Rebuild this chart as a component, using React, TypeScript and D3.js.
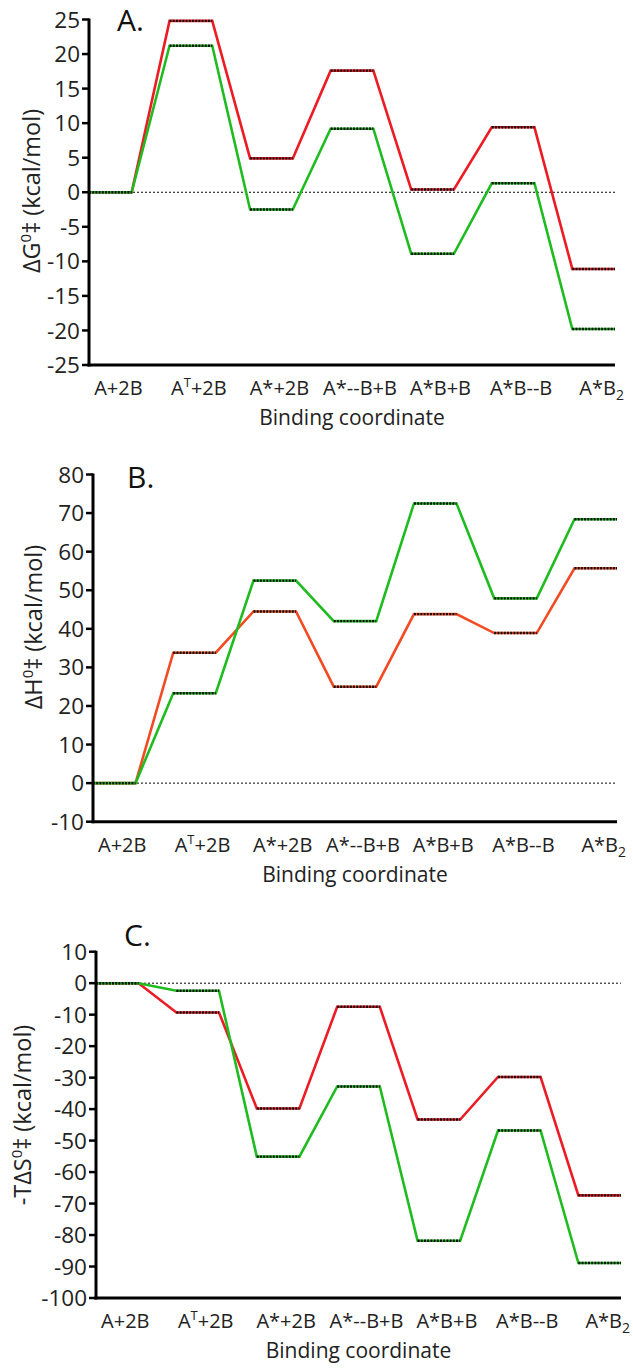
import React from 'react';
import * as d3 from 'd3';

// ---------- data ----------
const categories = ["A+2B", "A^T+2B", "A*+2B", "A*--B+B", "A*B+B", "A*B--B", "A*B_2"];

const dG_red = [0, 24.8, 4.9, 17.6, 0.4, 9.4, -11.1];
const dG_green = [0, 21.2, -2.5, 9.2, -8.9, 1.3, -19.8];

const dH_red = [0, 33.8, 44.5, 25.0, 43.8, 38.9, 55.7];
const dH_green = [0, 23.3, 52.5, 42.0, 72.5, 47.9, 68.4];

const TdS_red = [0, -9.3, -39.8, -7.5, -43.3, -29.8, -67.4];
const TdS_green = [0, -2.4, -55.1, -32.8, -81.8, -46.8, -88.9];

const ticksA = [-25, -20, -15, -10, -5, 0, 5, 10, 15, 20, 25];
const ticksB = [-10, 0, 10, 20, 30, 40, 50, 60, 70, 80];
const ticksC = [-100, -90, -80, -70, -60, -50, -40, -30, -20, -10, 0, 10];

const FONT = "'Open Sans', 'Noto Sans', sans-serif";
const GREEN = '#20bb20';

type Cfg = {
  label: string;
  labelX: number;
  labelY: number;
  titlePre: string;
  domain: [number, number];
  ticks: number[];
  x0: number;
  x1: number;
  yTop: number;
  yBottom: number;
  red: number[];
  green: number[];
  redColor: string;
  titleX: number;
  titleY: number;
};

function CatLabel({ text, x, y }: { text: string; x: number; y: number }) {
  if (text.includes('^')) {
    const [a, rest] = text.split('^');
    const sup = rest[0];
    const tail = rest.slice(1);
    return (
      <text x={x} y={y} textAnchor="middle" fontSize={20} fontFamily={FONT} fill="#222">
        <tspan>{a}</tspan>
        <tspan dy={-8} fontSize={13}>{sup}</tspan>
        <tspan dy={8}>{tail}</tspan>
      </text>
    );
  }
  if (text.includes('_')) {
    const [a, sub] = text.split('_');
    return (
      <text x={x} y={y} textAnchor="middle" fontSize={20} fontFamily={FONT} fill="#222">
        <tspan>{a}</tspan>
        <tspan dy={5} fontSize={14}>{sub}</tspan>
      </text>
    );
  }
  return (
    <text x={x} y={y} textAnchor="middle" fontSize={20} fontFamily={FONT} fill="#222">
      {text}
    </text>
  );
}

function Panel({ cfg }: { cfg: Cfg }) {
  const hw = 0.265;
  const x = d3
    .scaleLinear()
    .domain([-hw, categories.length - 1 + hw])
    .range([cfg.x0, cfg.x1]);
  const y = d3.scaleLinear().domain(cfg.domain).range([cfg.yBottom, cfg.yTop]);
  const line = d3.line();
  const pts = (vals: number[]) =>
    vals.flatMap((v, i) => [
      [x(i - hw), y(v)] as [number, number],
      [x(i + hw), y(v)] as [number, number],
    ]);

  const series = [
    { vals: cfg.red, color: cfg.redColor },
    { vals: cfg.green, color: GREEN },
  ];

  return (
    <g>
      <line
        x1={cfg.x0}
        x2={cfg.x1}
        y1={y(0)}
        y2={y(0)}
        stroke="#000"
        strokeWidth={1}
        strokeDasharray="2,2"
      />
      {series.map((s, k) => (
        <g key={k}>
          <path d={line(pts(s.vals)) || ''} fill="none" stroke={s.color} strokeWidth={2.6} strokeLinejoin="miter" />
          {s.vals.map((v, i) => (
            <line
              key={i}
              x1={x(i - hw)}
              x2={x(i + hw)}
              y1={y(v)}
              y2={y(v)}
              stroke="#111"
              strokeWidth={2.4}
              strokeDasharray="2,1.2"
            />
          ))}
        </g>
      ))}
      <line x1={cfg.x0} x2={cfg.x0} y1={cfg.yTop - 1} y2={cfg.yBottom + 1.5} stroke="#000" strokeWidth={3} />
      <line x1={cfg.x0 - 1.5} x2={cfg.x1} y1={cfg.yBottom} y2={cfg.yBottom} stroke="#000" strokeWidth={3} />
      {cfg.ticks.map((t) => (
        <g key={t}>
          <line x1={cfg.x0 - 7} x2={cfg.x0} y1={y(t)} y2={y(t)} stroke="#000" strokeWidth={2.5} />
          <text
            x={cfg.x0 - 9}
            y={y(t)}
            dy="0.36em"
            textAnchor="end"
            fontSize={22.5}
            fontFamily={FONT}
            fill="#222"
          >
            {String(t)}
          </text>
        </g>
      ))}
      {categories.map((c, i) => (
        <CatLabel key={c} text={c} x={x(i) + 8} y={cfg.yBottom + 30} />
      ))}
      <text
        x={(cfg.x0 + cfg.x1) / 2}
        y={cfg.yBottom + 60}
        textAnchor="middle"
        fontSize={21}
        fontFamily={FONT}
        fill="#222"
      >
        Binding coordinate
      </text>
      <text x={cfg.labelX} y={cfg.labelY} fontSize={30} fontFamily={FONT} fill="#111">
        {cfg.label}
      </text>
      <text
        transform={`translate(${cfg.titleX},${cfg.titleY}) rotate(-90)`}
        textAnchor="middle"
        fontSize={23.5}
        fontFamily={FONT}
        fill="#222"
      >
        <tspan>{cfg.titlePre}</tspan>
        <tspan dy={-9} fontSize={15}>0</tspan>
        <tspan dy={9}>{'\u2021 (kcal/mol)'}</tspan>
      </text>
    </g>
  );
}

const panels: Cfg[] = [
  {
    label: 'A.',
    labelX: 117,
    labelY: 31,
    titlePre: '\u0394G',
    domain: [-25, 25],
    ticks: ticksA,
    x0: 89,
    x1: 615,
    yTop: 19.5,
    yBottom: 365,
    red: dG_red,
    green: dG_green,
    redColor: '#ec1c24',
    titleX: 40,
    titleY: 191,
  },
  {
    label: 'B.',
    labelX: 127,
    labelY: 488,
    titlePre: '\u0394H',
    domain: [-10, 80],
    ticks: ticksB,
    x0: 93,
    x1: 617,
    yTop: 474.5,
    yBottom: 821.7,
    red: dH_red,
    green: dH_green,
    redColor: '#f24a22',
    titleX: 42,
    titleY: 627,
  },
  {
    label: 'C.',
    labelX: 124,
    labelY: 946,
    titlePre: '-T\u0394S',
    domain: [-100, 10],
    ticks: ticksC,
    x0: 96,
    x1: 621,
    yTop: 951.7,
    yBottom: 1298,
    red: TdS_red,
    green: TdS_green,
    redColor: '#ec1c24',
    titleX: 31,
    titleY: 1115,
  },
];

export default function App() {
  return (
    <svg
      width={633}
      height={1369}
      style={{ position: 'absolute', left: 0, top: 0, background: '#fff' }}
    >
      <rect width={633} height={1369} fill="#fff" />
      {panels.map((p) => (
        <Panel key={p.label} cfg={p} />
      ))}
    </svg>
  );
}
